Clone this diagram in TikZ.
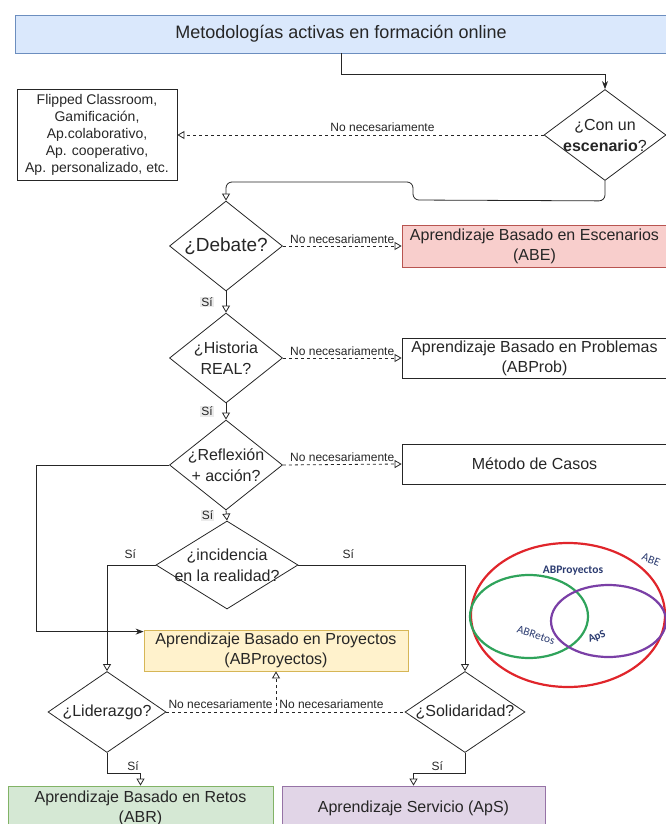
\documentclass[tikz,border=0pt]{standalone}
\usepackage{fontspec}
\setmainfont{Liberation Sans}
\newfontfamily\vennfont{Carlito}
\usetikzlibrary{shapes.geometric,arrows.meta,calc}
\definecolor{bluefill}{HTML}{DAE8FC}
\definecolor{blueline}{HTML}{6C8EBF}
\definecolor{redfill}{HTML}{F8CECC}
\definecolor{redline}{HTML}{B85450}
\definecolor{yellowfill}{HTML}{FFF2CC}
\definecolor{yellowline}{HTML}{D6B656}
\definecolor{greenfill}{HTML}{D5E8D4}
\definecolor{greenline}{HTML}{82B366}
\definecolor{purplefill}{HTML}{E1D5E7}
\definecolor{purpleline}{HTML}{9673A6}
\definecolor{vennred}{HTML}{E0252B}
\definecolor{venngreen}{HTML}{2FA35B}
\definecolor{vennpurple}{HTML}{7A3FA6}
\definecolor{venntext}{HTML}{2B3B70}
\tikzset{
  box/.style={draw, rectangle, inner sep=0pt, align=center, font=\fontsize{16}{20}\selectfont},
  quest/.style={draw, diamond, inner sep=0pt, aspect=1.25},
  qtext/.style={align=center, inner sep=0pt, font=\fontsize{16}{21}\selectfont},
  lbl/.style={inner sep=1pt, font=\fontsize{12}{14}\selectfont},
  silbl/.style={lbl, fill=black!8},
  yes/.style={-{Triangle[open,length=7pt,width=8pt]}},
  full/.style={-{Stealth[length=8pt,width=6pt]}},
  nopath/.style={dash pattern=on 3pt off 3pt, -{Triangle[open,length=7pt,width=8pt]}},
  venntxt/.style={inner sep=0pt, text=venntext, font=\vennfont\fontsize{11.5}{13}\selectfont},
}
\begin{document}
\begin{tikzpicture}[x=1pt,y=-1pt,color=black!85,line width=0.8pt]
\useasboundingbox (0,0) rectangle (666,824);

\node[box, fill=bluefill, draw=blueline, minimum width=652pt, minimum height=38pt, font=\fontsize{18}{22}\selectfont] (title) at (341,34) {Metodologías activas en formación online};

\node[quest, minimum width=122pt, minimum height=91pt] (con) at (605,135) {};
\node[qtext] (con-t) at (con) {¿Con un\\\textbf{escenario}?};
\node[box, minimum width=160pt, minimum height=91pt, font=\fontsize{14}{17}\selectfont] (otras) at (97,135) {Flipped Classroom,\\Gamificación,\\Ap.colaborativo,\\Ap. cooperativo,\\Ap. personalizado, etc.};

\node[quest, minimum width=113pt, minimum height=90pt] (debate) at (226,246) {};
\node[qtext, font=\fontsize{19}{22}\selectfont] (debate-t) at (debate) {¿Debate?};
\node[box, fill=redfill, draw=redline, minimum width=265pt, minimum height=42pt] (abe) at (534.5,246) {Aprendizaje Basado en Escenarios\\(ABE)};

\node[quest, minimum width=113pt, minimum height=90pt] (hist) at (226,358) {};
\node[qtext] (hist-t) at (hist) {¿Historia\\REAL?};
\node[box, minimum width=265pt, minimum height=40pt] (prob) at (534.5,358) {Aprendizaje Basado en Problemas\\(ABProb)};

\node[quest, minimum width=113pt, minimum height=90pt] (refl) at (226,465) {};
\node[qtext] (refl-t) at (refl) {¿Reflexión\\+ acción?};
\node[box, minimum width=265pt, minimum height=40pt] (casos) at (534.5,464) {Método de Casos};

\node[quest, minimum width=142pt, minimum height=88pt] (inc) at (227,565) {};
\node[qtext] (inc-t) at (inc) {¿incidencia\\en la realidad?};

\node[box, fill=yellowfill, draw=yellowline, minimum width=264pt, minimum height=41pt] (proy) at (276,650.5) {Aprendizaje Basado en Proyectos\\(ABProyectos)};

\node[quest, minimum width=118pt, minimum height=81pt] (lid) at (107,712) {};
\node[qtext] (lid-t) at (lid) {¿Liderazgo?};
\node[quest, minimum width=120pt, minimum height=81pt] (sol) at (465,712) {};
\node[qtext] (sol-t) at (sol) {¿Solidaridad?};

\node[box, fill=greenfill, draw=greenline, minimum width=265pt, minimum height=44pt] (abr) at (140.5,808) {Aprendizaje Basado en Retos\\(ABR)};
\node[box, fill=purplefill, draw=purpleline, minimum width=263pt, minimum height=44pt] (aps) at (413.5,808) {Aprendizaje Servicio (ApS)};

\draw[full] (title.south) -- ++(0,21) -| (con.north);
\draw[nopath] (con.west) -- node[lbl, above=2pt, pos=0.44] (no-a) {No necesariamente} (otras.east);
\draw[yes, rounded corners=6pt] (con.south) -- ++(0,20) -- (413,200) -- (413,182) -| (debate.north);

\draw[nopath] (debate.east) -- node[lbl, above=1pt] (no-b) {No necesariamente} (abe.west);
\draw[yes] (debate.south) -- node[silbl, left=12pt] (si-a) {Sí} (hist.north);
\draw[nopath] (hist.east) -- node[lbl, above=1pt] (no-c) {No necesariamente} (prob.west);
\draw[yes] (hist.south) -- node[silbl, left=12pt] (si-b) {Sí} (refl.north);
\draw[nopath] (refl.east) -- node[lbl, above=1pt] (no-d) {No necesariamente} (casos.west);
\draw[yes] (refl.south) -- node[silbl, left=12pt] (si-c) {Sí} (inc.north);

\coordinate (pin) at ([yshift=-2pt]proy.north west);
\draw[full] (refl.west) -- ++(-133,0) |- (pin);

\draw[yes] (inc.west) -| node[lbl, pos=0.26, above=5pt] (si-d) {Sí} (lid.north);
\draw[yes] (inc.east) -| node[lbl, pos=0.15, above=5pt] (si-e) {Sí} (sol.north);

\draw[dash pattern=on 3pt off 3pt] (lid.east) -- (sol.west);
\coordinate (mid) at (proy.south |- lid.east);
\draw[nopath] (mid) -- (proy.south);
\node[lbl, anchor=south east] (no-e) at ([xshift=-2pt,yshift=2pt]mid) {No necesariamente};
\node[lbl, anchor=south west] (no-f) at ([xshift=2pt,yshift=2pt]mid) {No necesariamente};

\draw[yes] (lid.south) -- ++(0,20) -| node[lbl, pos=0.39, above=1pt] (si-f) {Sí} (abr.north);
\draw[yes] (sol.south) -- ++(0,20) -| node[lbl, pos=0.27, above=1pt] (si-g) {Sí} (aps.north);

\draw[vennred, line width=2.2pt] (568,615) ellipse [x radius=97pt, y radius=72pt];
\draw[venngreen, line width=2.2pt] (529,616.5) ellipse [x radius=59pt, y radius=41.5pt];
\draw[vennpurple, line width=2.2pt] (608.5,621) ellipse [x radius=57.5pt, y radius=36pt];
\node[venntxt, font=\vennfont\bfseries\fontsize{11.5}{13}\selectfont] (v-proy) at (573,571) {ABProyectos};
\node[venntxt, rotate=-22] (v-abe) at (651,560) {ABE};
\node[venntxt, rotate=-18] (v-retos) at (536,635) {ABRetos};
\node[venntxt, rotate=22, font=\vennfont\bfseries\fontsize{11}{13}\selectfont] (v-aps) at (597,637) {ApS};
\end{tikzpicture}
\end{document}
